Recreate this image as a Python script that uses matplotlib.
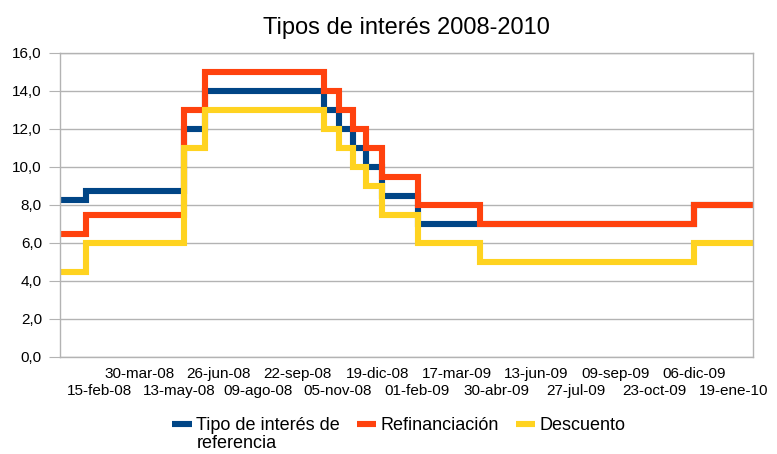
import matplotlib
matplotlib.use("Agg")
import matplotlib.pyplot as plt
import matplotlib.dates as mdates
from matplotlib.ticker import FuncFormatter
import numpy as np
import datetime as dt

# ---- data ----
change_dates = ['2008-01-02', '2008-01-31', '2008-05-19', '2008-06-11', '2008-10-21',
                '2008-11-07', '2008-11-22', '2008-12-07', '2008-12-24', '2009-02-02',
                '2009-04-12', '2009-12-05', '2010-02-09']
referencia = [8.25, 8.75, 12.0, 14.0, 13.0, 12.0, 11.0, 10.0, 8.5, 7.0, 7.0, 8.0, 8.0]
refinanciacion = [6.5, 7.5, 13.0, 15.0, 14.0, 13.0, 12.0, 11.0, 9.5, 8.0, 7.0, 8.0, 8.0]
descuento = [4.5, 6.0, 11.0, 13.0, 12.0, 11.0, 10.0, 9.0, 7.5, 6.0, 5.0, 6.0, 6.0]
series_names = ["Tipo de interés de", "Refinanciación", "Descuento"]
first_name_line2 = "referencia"
title = "Tipos de interés 2008-2010"
meses = ['ene', 'feb', 'mar', 'abr', 'may', 'jun', 'jul', 'ago', 'sep', 'oct', 'nov', 'dic']
tick_start = '2008-01-02'
tick_step_days = 44
n_ticks = 18

plt.rcParams['font.family'] = ['Liberation Sans', 'DejaVu Sans']

colors = ['#004586', '#ff420e', '#ffd320']
grid_c = '#b3b3b3'

x = [dt.datetime.strptime(d, '%Y-%m-%d') for d in change_dates]

fig = plt.figure(figsize=(7.77, 4.54), dpi=100)
ax = fig.add_axes([60/777, 1-357/454, (753-60)/777, (357-53)/454])

lines = []
for vals, c, name in zip([referencia, refinanciacion, descuento], colors, series_names):
    ln, = ax.plot(x, vals, drawstyle='steps-post', color=c, lw=4.4, label=name,
                  solid_joinstyle='miter', solid_capstyle='butt')
    lines.append(ln)

ax.set_xlim(x[0], x[-1])
ax.set_ylim(0, 16)
ax.set_yticks(np.arange(0, 17, 2))
ax.yaxis.set_major_formatter(FuncFormatter(lambda v, p: f"{v:.1f}".replace('.', ',')))
ax.grid(axis='y', color=grid_c, lw=1)
ax.set_axisbelow(True)
for s in ax.spines.values():
    s.set_color(grid_c)
    s.set_linewidth(1)
ax.tick_params(axis='y', length=8, color=grid_c, labelsize=11, pad=5, labelcolor='black')

# staggered x tick labels
t0 = dt.datetime.strptime(tick_start, '%Y-%m-%d')
ticks = [t0 + dt.timedelta(days=tick_step_days * i) for i in range(n_ticks)]
def lab(d):
    return f"{d.day:02d}-{meses[d.month-1]}-{d.strftime('%y')}"
upper = [t for i, t in enumerate(ticks) if i % 2 == 0 and i > 0]
lower = [t for i, t in enumerate(ticks) if i % 2 == 1]
ax.set_xticks([mdates.date2num(t) for t in upper])
ax.set_xticklabels([lab(t) for t in upper])
ax.set_xticks([mdates.date2num(t) for t in lower], minor=True)
ax.set_xticklabels([lab(t) for t in lower], minor=True)
ax.tick_params(axis='x', which='major', length=0, pad=7, labelsize=11)
ax.tick_params(axis='x', which='minor', length=0, pad=19.5, labelsize=11)

ax.set_title(title, fontsize=17, pad=14)

leg = fig.legend(handles=lines, loc='center', bbox_to_anchor=(399/777, 1-426/454), ncol=3,
                 frameon=False, fontsize=13, handlelength=1.1, handletextpad=0.25,
                 columnspacing=0.9)

# second line of the first legend label, placed under its first line
fig.canvas.draw()
t0bb = leg.get_texts()[0].get_window_extent(fig.canvas.get_renderer())
fx = t0bb.x0 / fig.bbox.width
fy = (t0bb.y0 - 18) / fig.bbox.height
fig.text(fx, fy, first_name_line2, fontsize=13, ha='left', va='bottom')

fig.savefig('out.png', dpi=100)
